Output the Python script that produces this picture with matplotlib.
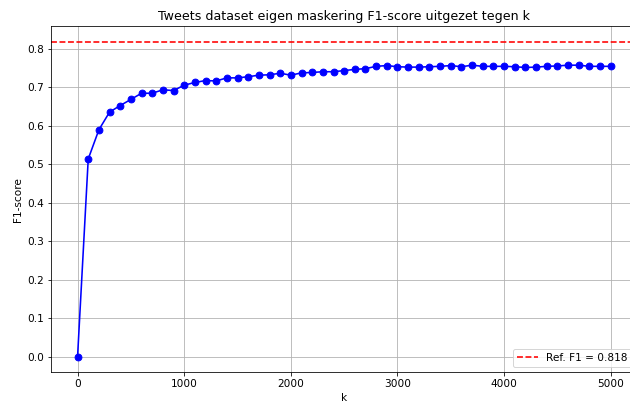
import matplotlib
matplotlib.use('Agg')
import matplotlib.pyplot as plt
import numpy as np

plt.rcParams['font.size'] = 10.5

# k-waarden en bijbehorende F1-scores
k_values = list(range(0, 5001, 100))
f1_scores = [
    0.000, 0.514, 0.590, 0.636, 0.653, 0.669, 0.685, 0.685, 0.694, 0.692,
    0.706, 0.713, 0.718, 0.717, 0.725, 0.725, 0.728, 0.732, 0.733, 0.737,
    0.732, 0.738, 0.739, 0.741, 0.741, 0.744, 0.747, 0.749, 0.755, 0.757,
    0.754, 0.753, 0.753, 0.754, 0.755, 0.757, 0.754, 0.758, 0.755, 0.755,
    0.755, 0.754, 0.752, 0.753, 0.755, 0.756, 0.758, 0.758, 0.755, 0.755,
    0.755,
]
ref_f1 = 0.818

fig = plt.figure(figsize=(630 / 72, 406 / 72), dpi=72)
ax = fig.add_axes([0.0808, 0.083, 0.931, 0.852])

ax.plot(k_values, f1_scores, 'b-o', markersize=6.8, linewidth=1.6)
ax.axhline(ref_f1, color='red', linestyle='--', linewidth=1.6,
           label=f'Ref. F1 = {ref_f1}')

ax.set_xticks(np.arange(0, 5001, 1000))
ax.set_yticks(np.arange(0, 0.81, 0.1))
ax.grid(True, color='#b0b0b0', linewidth=0.8)
ax.set_axisbelow(True)

ax.set_title('Tweets dataset eigen maskering F1-score uitgezet tegen k', fontsize=12.6)
ax.set_xlabel('k')
ax.set_ylabel('F1-score')
ax.legend(loc='lower right')

fig.savefig('out.png', dpi=72)
